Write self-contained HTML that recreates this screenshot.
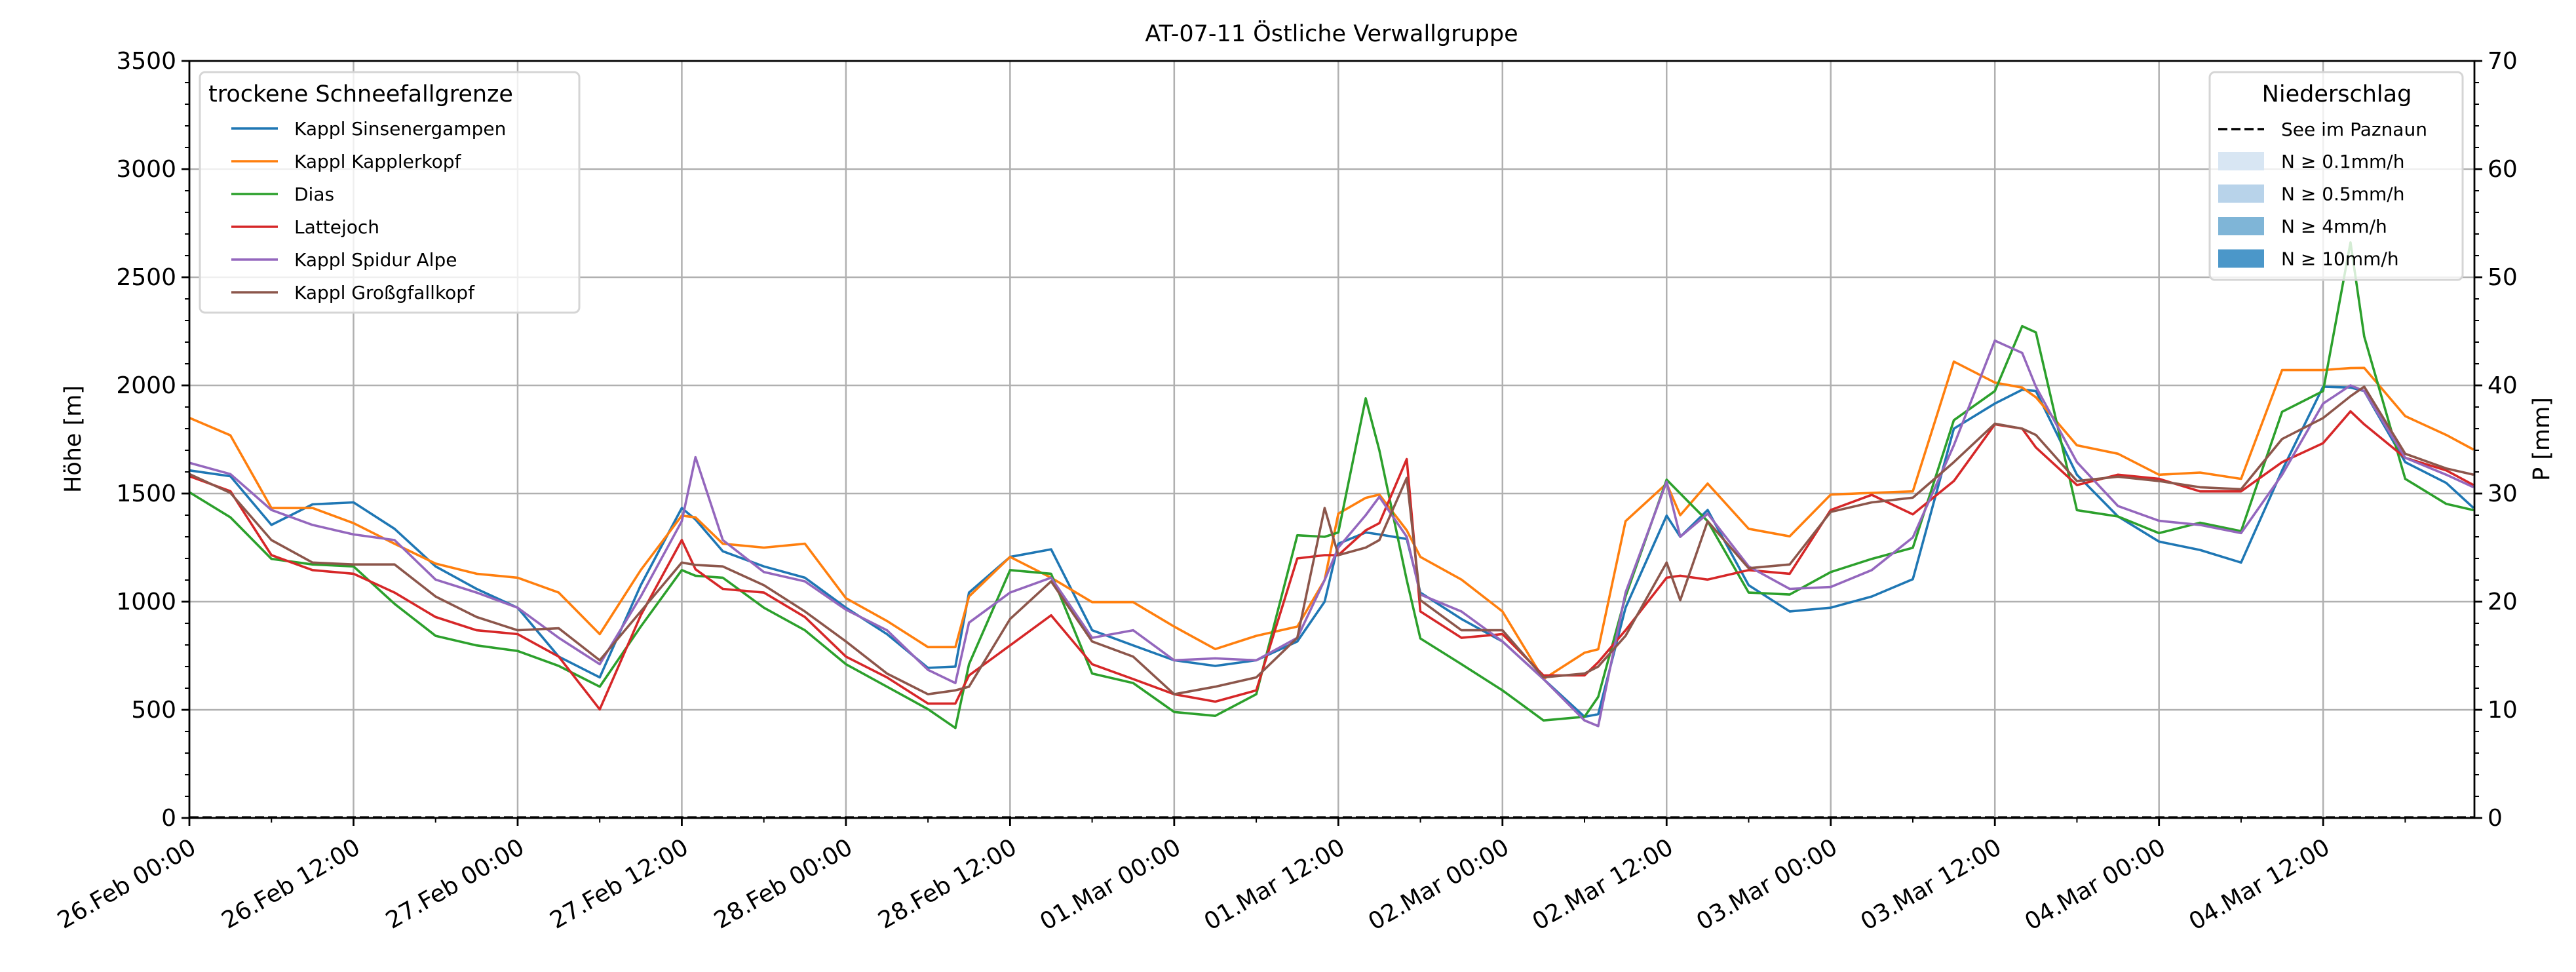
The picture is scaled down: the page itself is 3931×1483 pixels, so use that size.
<!DOCTYPE html>
<html><head><meta charset="utf-8">
<style>
html,body{margin:0;padding:0;background:#fff;}
svg{display:block;font-family:"DejaVu Sans","Liberation Sans",sans-serif;}
</style></head>
<body>
<svg id="chart" width="3931" height="1483" viewBox="0 0 3931 1483" xmlns="http://www.w3.org/2000/svg">
<rect x="0" y="0" width="3931" height="1483" fill="#fff"/>
<g id="grid"></g>
<g id="series"></g>
<g id="axes"></g>
<text x="2032" y="63" text-anchor="middle" font-size="35">AT-07-11 Östliche Verwallgruppe</text>
<text transform="translate(123,670) rotate(-90)" text-anchor="middle" font-size="35">Höhe [m]</text>
<text transform="translate(3890,670) rotate(-90)" text-anchor="middle" font-size="35">P [mm]</text>
<g id="legend1">
<rect x="305" y="110" width="579" height="367" rx="8" fill="#fff" fill-opacity="0.8" stroke="#d5d5d5" stroke-width="3"/>
<text x="318" y="155" font-size="35">trockene Schneefallgrenze</text>
</g>
<g id="legend2">
<rect x="3372" y="110" width="386" height="317" rx="8" fill="#fff" fill-opacity="0.8" stroke="#d5d5d5" stroke-width="3"/>
<text x="3566" y="155" font-size="35" text-anchor="middle">Niederschlag</text>
</g>
</svg>
<script>
const hours=[0,3,6,9,12,15,18,21,24,27,30,33,36,37,39,42,45,48,51,54,56,57,60,63,66,69,72,75,78,81,83,84,86,87,89,90,93,96,99,102,103,105,108,109,111,114,117,120,123,126,129,132,134,135,138,141,144,147,150,153,156,158,159,162,165,167];
const sinsenergampen=[1607,1580,1355,1450,1459,1337,1163,1059,972,746,650,1076,1433,1380,1233,1163,1111,972,850,694,700,1042,1207,1242,868,798,729,703,729,816,1000,1268,1320,1311,1290,1042,920,816,642,468,480,972,1398,1300,1424,1076,955,972,1024,1104,1800,1916,1980,1974,1587,1394,1278,1239,1181,1607,1994,1990,1974,1645,1549,1433];
const kapplerkopf=[1850,1769,1433,1433,1363,1268,1176,1129,1111,1042,850,1146,1398,1390,1268,1250,1268,1016,911,790,790,1024,1207,1111,998,998,885,781,842,885,1100,1407,1480,1495,1330,1207,1102,955,642,764,780,1372,1546,1400,1546,1337,1302,1495,1503,1510,2110,2013,1990,1945,1723,1684,1587,1597,1568,2071,2071,2080,2081,1858,1771,1703];
const dias=[1506,1390,1198,1172,1163,990,842,798,772,703,607,885,1146,1120,1111,972,868,711,607,503,416,711,1146,1129,668,624,490,472,572,1307,1300,1320,1940,1700,1100,830,711,590,451,468,560,1024,1564,1500,1372,1042,1033,1137,1198,1249,1839,1974,2274,2245,1423,1394,1317,1365,1326,1878,1974,2661,2226,1568,1452,1423];
const lattejoch=[1580,1511,1215,1146,1129,1042,929,868,850,746,502,937,1285,1150,1059,1042,929,746,650,529,529,659,798,937,711,642,572,538,590,1200,1215,1215,1330,1363,1659,955,833,850,659,659,720,868,1111,1120,1102,1146,1129,1424,1494,1404,1558,1820,1800,1713,1539,1587,1568,1510,1510,1645,1733,1880,1820,1665,1607,1539];
const spidurAlpe=[1642,1590,1424,1355,1311,1285,1102,1042,972,833,711,1024,1372,1668,1285,1137,1094,963,868,685,624,903,1042,1111,833,868,729,738,729,833,1100,1250,1400,1485,1300,1033,955,816,642,451,425,1042,1555,1300,1407,1163,1059,1068,1146,1297,1723,2207,2150,1994,1645,1442,1374,1355,1317,1587,1916,2000,1974,1665,1587,1529];
const grossgfallkopf=[1590,1503,1285,1181,1172,1172,1024,929,868,877,729,955,1181,1170,1163,1076,955,816,668,572,590,607,920,1094,816,746,572,607,650,833,1433,1215,1250,1285,1572,1007,868,868,650,668,700,842,1181,1007,1372,1155,1172,1415,1459,1481,1645,1823,1800,1771,1558,1578,1558,1529,1520,1752,1849,1950,1994,1684,1616,1587];
const precipHours=[0,167];
const precipValues=[0.05,0.05];
const seriesNames=["Kappl Sinsenergampen","Kappl Kapplerkopf","Dias","Lattejoch","Kappl Spidur Alpe","Kappl Großgfallkopf"];
const yTicks=[0,500,1000,1500,2000,2500,3000,3500];
const y2Ticks=[0,10,20,30,40,50,60,70];
const xTickLabels=["26.Feb 00:00","26.Feb 12:00","27.Feb 00:00","27.Feb 12:00","28.Feb 00:00","28.Feb 12:00","01.Mar 00:00","01.Mar 12:00","02.Mar 00:00","02.Mar 12:00","03.Mar 00:00","03.Mar 12:00","04.Mar 00:00","04.Mar 12:00"];

const L=289,R=3776,T=93,B=1248,HMAX=167.06,YMAX=3500,PMAX=70;
const colors=["#1f77b4","#ff7f0e","#2ca02c","#d62728","#9467bd","#8c564b"];
const allSeries=[sinsenergampen,kapplerkopf,dias,lattejoch,spidurAlpe,grossgfallkopf];
const NS="http://www.w3.org/2000/svg";
function xs(h){return L+(R-L)*h/HMAX;}
function ys(v){return B-(B-T)*v/YMAX;}
function ps(v){return B-(B-T)*v/PMAX;}
function mk(tag,attrs,parent){const e=document.createElementNS(NS,tag);for(const k in attrs)e.setAttribute(k,attrs[k]);parent.appendChild(e);return e;}
const grid=document.getElementById('grid'),ser=document.getElementById('series'),ax=document.getElementById('axes');

yTicks.forEach(v=>{
  const g=mk('line',{x1:L,x2:R,y1:ys(v),y2:ys(v),stroke:'#b0b0b0','stroke-width':2.5},grid);
  
  
});
xTickLabels.forEach((lab,i)=>{
  const x=xs(i*12);
  const g=mk('line',{x1:x,x2:x,y1:T,y2:B,stroke:'#b0b0b0','stroke-width':2.5},grid);
  
  
});

allSeries.forEach((s,si)=>{
  const pts=s.map((v,i)=>xs(hours[i]).toFixed(1)+','+ys(v).toFixed(1)).join(' ');
  const p=mk('polyline',{points:pts,fill:'none',stroke:colors[si],'stroke-width':3.6,'stroke-linejoin':'round'},ser);
  
  
});
const pl=mk('polyline',{points:precipHours.map((h,i)=>xs(h)+','+ps(precipValues[i])).join(' '),fill:'none',stroke:'#000','stroke-width':3.6,'stroke-dasharray':'14,6'},ser);



const fr=mk('rect',{x:L,y:T,width:R-L,height:B-T,fill:'none',stroke:'#000','stroke-width':2.8},ax);


for(let v=0;v<=YMAX;v+=100){
  const major=v%500===0, len=major?12:7;
  mk('line',{x1:L-len,x2:L,y1:ys(v),y2:ys(v),stroke:'#000','stroke-width':major?2.8:2},ax);
}
yTicks.forEach(v=>{
  const t=mk('text',{x:L-20,y:ys(v)+12,'text-anchor':'end','font-size':36},ax);
  t.textContent=v;
  
  
});
for(let v=0;v<=PMAX;v+=2){
  const major=v%10===0, len=major?12:7;
  mk('line',{x1:R,x2:R+len,y1:ps(v),y2:ps(v),stroke:'#000','stroke-width':major?2.8:2},ax);
}
y2Ticks.forEach(v=>{
  const t=mk('text',{x:R+20,y:ps(v)+12,'text-anchor':'start','font-size':36},ax);
  t.textContent=v;
  
  
});
for(let h=0;h<=HMAX;h+=6){
  const major=h%12===0,len=major?12:7;
  mk('line',{x1:xs(h),x2:xs(h),y1:B,y2:B+len,stroke:'#000','stroke-width':major?2.8:2},ax);
}
xTickLabels.forEach((lab,i)=>{
  const x=xs(i*12),y=B+30;
  const t=mk('text',{x:x,y:y,'text-anchor':'end','font-size':36,transform:`rotate(-30 ${x} ${y})`,dy:'0.7em'},ax);
  t.textContent=lab;
  
  
});

const lg1=document.getElementById('legend1');
seriesNames.forEach((n,i)=>{
  const y=196+i*50;
  const l=mk('line',{x1:353,x2:424,y1:y,y2:y,stroke:colors[i],'stroke-width':3.6},lg1);
  
  
  const t=mk('text',{x:449,y:y+10,'font-size':28},lg1);
  t.textContent=n;
  
  
});
const lg2=document.getElementById('legend2');
const dl=mk('line',{x1:3385,x2:3455,y1:197,y2:197,stroke:'#000','stroke-width':3.6,'stroke-dasharray':'14,6'},lg2);


const t0=mk('text',{x:3481,y:207,'font-size':28},lg2);
t0.textContent='See im Paznaun';


const pCols=['#d8e6f3','#b8d3ea','#7fb5d7','#4b97c9'];
const pLabs=['N ≥ 0.1mm/h','N ≥ 0.5mm/h','N ≥ 4mm/h','N ≥ 10mm/h'];
pLabs.forEach((lab,i)=>{
  const y=246+i*49.5;
  const r=mk('rect',{x:3385,y:y-14,width:70,height:28,fill:pCols[i]},lg2);
  
  
  const t=mk('text',{x:3481,y:y+10,'font-size':28},lg2);
  t.textContent=lab;
  
  
});
</script>
</body></html>
